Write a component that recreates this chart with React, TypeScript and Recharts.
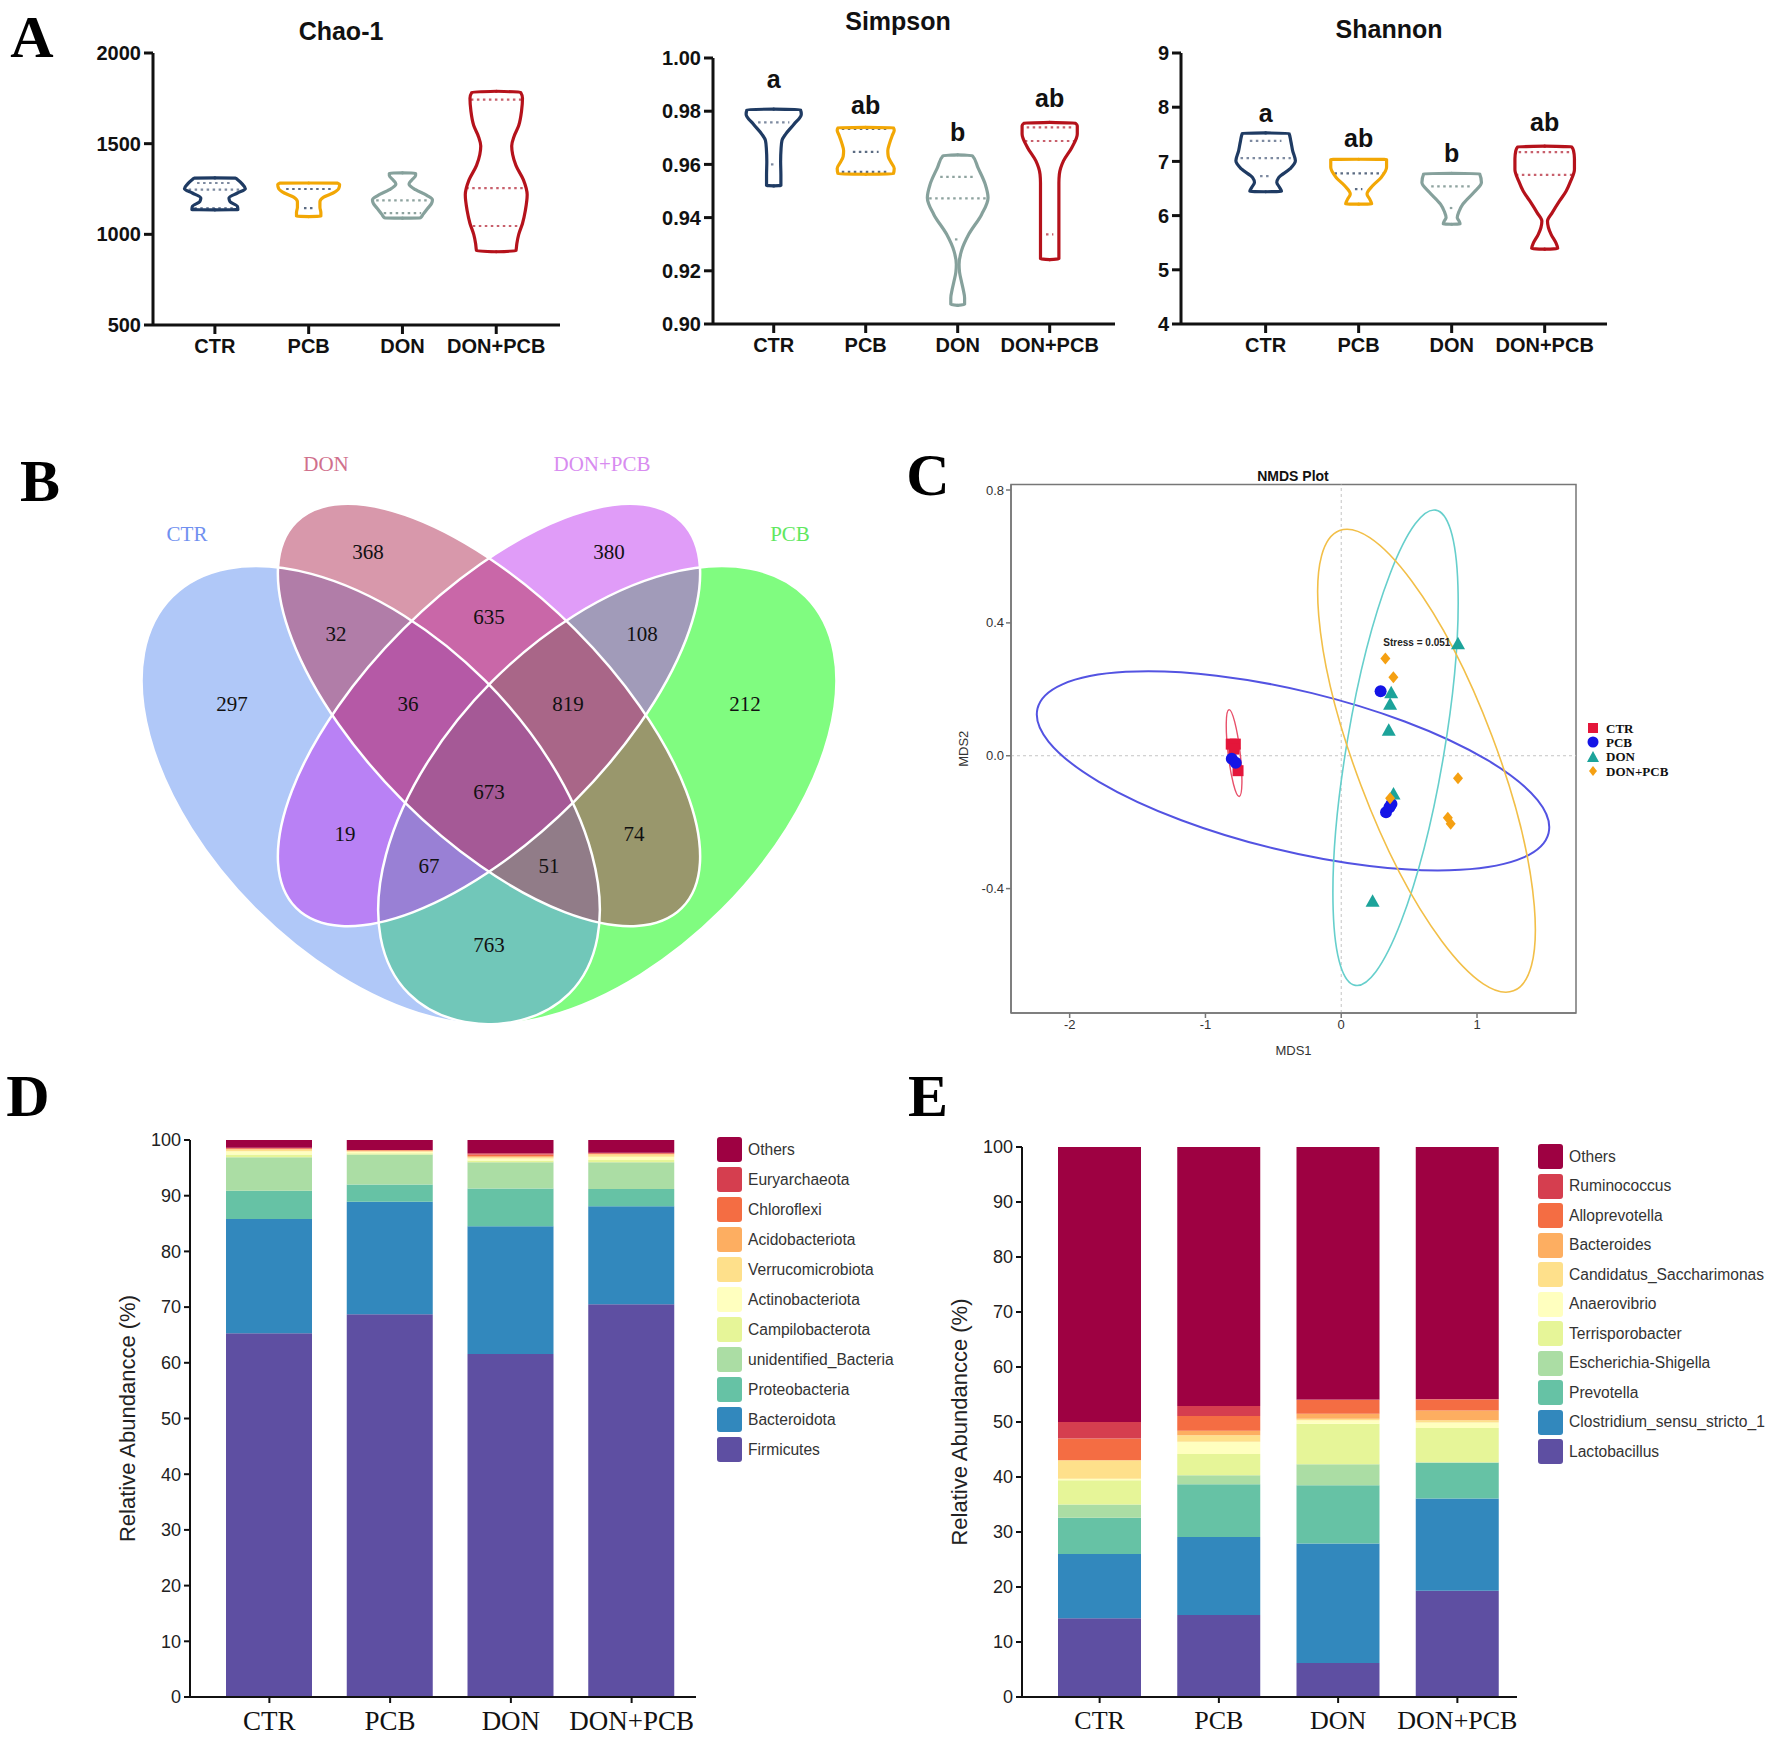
import React from 'react';
import {
  ComposedChart, Line, XAxis, YAxis, LabelList, BarChart, Bar,
  ScatterChart, Scatter, ReferenceLine, ReferenceArea, ReferenceDot,
} from 'recharts';

const SANS = '"Liberation Sans", Arial, Helvetica, sans-serif';
const SERIF = '"Liberation Serif", "Times New Roman", Times, serif';

const groups = ['CTR', 'PCB', 'DON', 'DON+PCB'];

// ---------- A: alpha diversity (violins) ----------
const violinStroke = ['#1f3b63', '#f2a705', '#86a19c', '#b5121b'];
const dotStroke = ['#7d8aa0', '#5b6b82', '#8ea39f', '#c8606c'];
const sigLetters = ['a', 'ab', 'b', 'ab'];

// outline per group, bottom to top: [value, half width in group units]
const chaoViolins = [
  [[1135, 0.245], [1154, 0.24], [1181, 0.16], [1200, 0.15], [1228, 0.24], [1252, 0.325], [1278, 0.29], [1302, 0.24], [1311, 0.22]],
  [[1098, 0.13], [1120, 0.13], [1150, 0.12], [1180, 0.12], [1205, 0.16], [1228, 0.26], [1252, 0.32], [1275, 0.33], [1283, 0.31]],
  [[1089, 0.19], [1110, 0.22], [1144, 0.27], [1170, 0.31], [1191, 0.32], [1215, 0.26], [1246, 0.14], [1278, 0.07], [1300, 0.1], [1325, 0.14], [1339, 0.14]],
  [[904, 0.21], [950, 0.22], [1000, 0.24], [1060, 0.28], [1130, 0.31], [1218, 0.33], [1300, 0.29], [1380, 0.21], [1440, 0.175], [1487, 0.165], [1540, 0.19], [1600, 0.24], [1680, 0.27], [1750, 0.28], [1789, 0.26]],
];
const chaoQuartiles = [
  [[1283, 0.19], [1247, 0.28], [1144, 0.22]],
  [[1250, 0.24], [1144, 0.05]],
  [[1187, 0.28], [1117, 0.2]],
  [[1743, 0.27], [1255, 0.32], [1046, 0.25]],
];

const simpsonViolins = [
  [[0.9519, 0.078], [0.956, 0.078], [0.961, 0.075], [0.966, 0.08], [0.969, 0.09], [0.9714, 0.13], [0.9751, 0.22], [0.9789, 0.3], [0.9808, 0.29]],
  [[0.9563, 0.3], [0.9585, 0.31], [0.9605, 0.28], [0.963, 0.245], [0.9651, 0.24], [0.968, 0.26], [0.971, 0.29], [0.9728, 0.31], [0.9739, 0.3]],
  [[0.907, 0.075], [0.9098, 0.075], [0.913, 0.06], [0.9161, 0.04], [0.9195, 0.02], [0.9224, 0.015], [0.9274, 0.04], [0.9337, 0.12], [0.9412, 0.26], [0.9475, 0.33], [0.9525, 0.3], [0.9588, 0.22], [0.9636, 0.16]],
  [[0.9242, 0.1], [0.93, 0.1], [0.938, 0.1], [0.946, 0.1], [0.953, 0.1], [0.9563, 0.105], [0.9613, 0.15], [0.9663, 0.24], [0.9714, 0.3], [0.9745, 0.3], [0.9758, 0.28]],
];
const simpsonQuartiles = [
  [[0.9758, 0.17], [0.96, 0.03]],
  [[0.9733, 0.26], [0.9647, 0.14], [0.9572, 0.26]],
  [[0.9553, 0.19], [0.9472, 0.31], [0.9318, 0.03]],
  [[0.9739, 0.25], [0.9688, 0.27], [0.9337, 0.04]],
];
const simpsonLetterY = [0.9921, 0.9823, 0.9722, 0.9848];

const shannonViolins = [
  [[6.44, 0.17], [6.52, 0.15], [6.61, 0.12], [6.7, 0.14], [6.86, 0.26], [7.01, 0.32], [7.2, 0.29], [7.38, 0.27], [7.525, 0.25]],
  [[6.21, 0.14], [6.3, 0.12], [6.4, 0.09], [6.55, 0.15], [6.7, 0.24], [6.89, 0.3], [7.04, 0.3]],
  [[5.84, 0.09], [5.9, 0.08], [5.96, 0.06], [6.08, 0.08], [6.21, 0.12], [6.43, 0.24], [6.61, 0.32], [6.78, 0.3]],
  [[5.38, 0.14], [5.5, 0.12], [5.65, 0.07], [5.78, 0.04], [5.9, 0.03], [6.05, 0.08], [6.27, 0.16], [6.45, 0.23], [6.64, 0.28], [6.85, 0.32], [7.05, 0.32], [7.2, 0.31], [7.28, 0.29]],
];
const shannonQuartiles = [
  [[7.38, 0.17], [7.06, 0.27], [6.73, 0.06]],
  [[6.78, 0.26], [6.49, 0.04]],
  [[6.54, 0.22], [6.14, 0.02]],
  [[7.17, 0.28], [6.75, 0.31]],
];
const shannonLetterY = [7.89, 7.43, 7.15, 7.73];

// ---------- B: Venn ----------
const vennSets = ['CTR', 'DON', 'DON+PCB', 'PCB'];
const vennSetColors = ['#6191f1', '#b13157', '#c139f1', '#02f902'];
const vennTitleColors = ['#7090f0', '#d0708c', '#d88cf0', '#60e860'];
const vennRegions = ['DON', 'DON+PCB', 'CTR&DON', 'DON&DON+PCB', 'DON+PCB&PCB', 'CTR', 'CTR&DON&DON+PCB', 'DON&DON+PCB&PCB', 'PCB', 'all', 'CTR&DON+PCB', 'DON&PCB', 'CTR&DON+PCB&PCB', 'CTR&DON&PCB', 'CTR&PCB'];
const vennCounts = [368, 380, 32, 635, 108, 297, 36, 819, 212, 673, 19, 74, 67, 51, 763];

// ---------- C: NMDS ----------
const nmdsCTR = [[-0.81, 0.035], [-0.78, 0.035], [-0.79, 0.02], [-0.76, -0.045]];
const nmdsPCB = [[-0.806, -0.009], [-0.777, -0.021], [0.29, 0.194], [0.33, -0.17], [0.37, -0.145], [0.355, -0.155]];
const nmdsDON = [[0.86, 0.337], [0.368, 0.19], [0.36, 0.155], [0.35, 0.077], [0.385, -0.115], [0.231, -0.438]];
const nmdsDONPCB = [[0.325, 0.293], [0.384, 0.236], [0.86, -0.068], [0.785, -0.187], [0.806, -0.205], [0.36, -0.128]];
const nmdsEllipseCenters = [[-0.789, 0.008], [-0.355, -0.0455], [0.4, 0.024], [0.628, -0.015]];

// ---------- D / E: stacked composition ----------
const spectral = ['#5e4fa2', '#3288bd', '#66c2a5', '#abdda4', '#e6f598', '#ffffbf', '#fee08b', '#fdae61', '#f46d43', '#d53e4f', '#9e0142'];
const phylumNames = ['Firmicutes', 'Bacteroidota', 'Proteobacteria', 'unidentified_Bacteria', 'Campilobacterota', 'Actinobacteriota', 'Verrucomicrobiota', 'Acidobacteriota', 'Chloroflexi', 'Euryarchaeota', 'Others'];
const phylumValues = [
  [65.3, 20.5, 5.1, 6.0, 0.5, 0.6, 0.3, 0.1, 0.1, 0.1, 1.4],
  [68.7, 20.2, 3.1, 5.4, 0.2, 0.3, 0.1, 0.1, 0.1, 0.0, 1.8],
  [61.6, 22.9, 6.8, 4.7, 0.3, 0.4, 0.2, 0.2, 0.3, 0.2, 2.4],
  [70.5, 17.6, 3.1, 4.8, 0.4, 0.6, 0.4, 0.1, 0.1, 0.1, 2.3],
];
const genusNames = ['Lactobacillus', 'Clostridium_sensu_stricto_1', 'Prevotella', 'Escherichia-Shigella', 'Terrisporobacter', 'Anaerovibrio', 'Candidatus_Saccharimonas', 'Bacteroides', 'Alloprevotella', 'Ruminococcus', 'Others'];
const genusValues = [
  [14.3, 11.7, 6.6, 2.4, 4.4, 0.3, 3.3, 0.1, 3.9, 3.0, 50.0],
  [14.9, 14.2, 9.6, 1.6, 3.9, 2.2, 1.2, 0.8, 2.7, 1.8, 47.1],
  [6.2, 21.7, 10.6, 3.8, 7.4, 0.6, 0.3, 0.9, 2.5, 0.1, 45.9],
  [19.3, 16.8, 6.5, 0.1, 6.2, 1.0, 0.4, 1.8, 2.0, 0.1, 45.8],
];
const pctTicks = [0, 10, 20, 30, 40, 50, 60, 70, 80, 90, 100];

// ================= helpers =================
type Pt = { x: number; y: number };

function violinSide(outline: number[][], i: number, sign: number): Pt[] {
  const n = outline.length;
  const lo = outline[0][0];
  const hi = outline[n - 1][0];
  const eps = (hi - lo) * 0.006;
  const pts: Pt[] = [{ x: i, y: lo }];
  outline.forEach(([v, w], k) => {
    const y = k === 0 ? v + eps : k === n - 1 ? v - eps : v;
    pts.push({ x: i + sign * w, y });
  });
  pts.push({ x: i, y: hi });
  return pts;
}

function PanelLetter({ ch, x, y }: { ch: string; x: number; y: number }) {
  return (
    <div style={{ position: 'absolute', left: x, top: y, transform: 'translate(-50%, -50%)', fontFamily: SERIF, fontWeight: 700, fontSize: 60, lineHeight: 1, color: '#000' }}>{ch}</div>
  );
}

function Title({ text, x, y, size, weight = 700 }: { text: string; x: number; y: number; size: number; weight?: number }) {
  return (
    <div style={{ position: 'absolute', left: x, top: y, transform: 'translate(-50%, -50%)', fontFamily: SANS, fontWeight: weight, fontSize: size, lineHeight: 1, color: '#111', whiteSpace: 'nowrap' }}>{text}</div>
  );
}

type ViolinCfg = {
  left: number; width: number; yWidth: number;
  margin: { top: number; right: number; bottom: number; left: number };
  xDomain: [number, number]; yDomain: [number, number]; yTicks: number[]; yFmt: (v: number) => string;
  outlines: number[][][]; quartiles: number[][][]; letterY?: number[];
};

function ViolinPanel({ cfg }: { cfg: ViolinCfg }) {
  const series: React.ReactNode[] = [];
  cfg.outlines.forEach((outline, i) => {
    cfg.quartiles[i].forEach(([v, w], k) => {
      series.push(
        <Line key={`q${i}-${k}`} data={[{ x: i - w, y: v }, { x: i + w, y: v }]} dataKey="y" type="linear"
          stroke={dotStroke[i]} strokeWidth={2.2} strokeDasharray="2.5 3.5" dot={false} activeDot={false} isAnimationActive={false} />,
      );
    });
    [1, -1].forEach((sign) => {
      series.push(
        <Line key={`v${i}-${sign}`} data={violinSide(outline, i, sign)} dataKey="y" type="monotoneY"
          stroke={violinStroke[i]} strokeWidth={3.2} strokeLinejoin="round" strokeLinecap="round"
          dot={false} activeDot={false} isAnimationActive={false} />,
      );
    });
  });
  const tickStyle = { fontSize: 20, fontWeight: 700, fill: '#111', fontFamily: SANS };
  return (
    <div style={{ position: 'absolute', left: cfg.left, top: 0 }}>
      <ComposedChart width={cfg.width} height={380} margin={cfg.margin}>
        <XAxis type="number" dataKey="x" domain={cfg.xDomain} allowDataOverflow ticks={[0, 1, 2, 3]} interval={0}
          tickFormatter={(v: number) => groups[v]} tick={tickStyle} height={40} tickSize={9} tickMargin={5}
          axisLine={{ stroke: '#111', strokeWidth: 3 }} tickLine={{ stroke: '#111', strokeWidth: 3 }} />
        <YAxis type="number" domain={cfg.yDomain} allowDataOverflow ticks={cfg.yTicks} interval={0}
          tickFormatter={cfg.yFmt} tick={tickStyle} width={cfg.yWidth} tickSize={9} tickMargin={3}
          axisLine={{ stroke: '#111', strokeWidth: 3 }} tickLine={{ stroke: '#111', strokeWidth: 3 }} />
        {series}
        {cfg.letterY && (
          <Line data={groups.map((g, i) => ({ x: i, y: cfg.letterY![i], t: sigLetters[i] }))} dataKey="y"
            stroke="none" dot={false} activeDot={false} isAnimationActive={false}>
            <LabelList dataKey="t" position="center" fill="#111" stroke="none" fontSize={25} fontWeight={700} fontFamily={SANS} />
          </Line>
        )}
      </ComposedChart>
    </div>
  );
}

// ---------- Venn ----------
const vennEllipseLayout = [
  { cx: 370.7, cy: 355.2, rx: 280.7, ry: 161.9, angle: 45 },  // CTR
  { cx: 489, cy: 275, rx: 272.8, ry: 121.4, angle: 45 },      // DON
  { cx: 489, cy: 275, rx: 272.8, ry: 121.4, angle: -45 },     // DON+PCB
  { cx: 607.3, cy: 355.2, rx: 280.7, ry: 161.9, angle: -45 }, // PCB
];
const vennDrawOrder = [3, 0, 2, 1];
const vennLabelLayout = [
  [368, 112], [609, 112], [336, 194], [489, 177], [642, 194], [232, 264], [408, 264], [568, 264],
  [745, 264], [489, 352], [345, 394], [634, 394], [429, 426], [549, 426], [489, 505],
];
const vennTitleLayout = [[187, 94], [326, 24], [602, 24], [790, 94]];

const VennFill = (p: any) => (
  <ellipse cx={p.cx} cy={p.cy} rx={p.payload.rx} ry={p.payload.ry} transform={`rotate(${p.payload.angle} ${p.cx} ${p.cy})`}
    fill={p.payload.color} fillOpacity={0.5} stroke="none" />
);
const VennEdge = (p: any) => (
  <ellipse cx={p.cx} cy={p.cy} rx={p.payload.rx} ry={p.payload.ry} transform={`rotate(${p.payload.angle} ${p.cx} ${p.cy})`}
    fill="none" stroke="#fff" strokeWidth={2.5} />
);
const VennCount = (p: any) => (
  <text x={p.cx} y={p.cy} textAnchor="middle" dominantBaseline="central" fontFamily={SERIF} fontSize={21} fill="#111">{p.payload.count}</text>
);
const VennTitle = (p: any) => (
  <text x={p.cx} y={p.cy} textAnchor="middle" dominantBaseline="central" fontFamily={SERIF} fontSize={21} fill={p.payload.color}>{p.payload.name}</text>
);

function VennPanel() {
  const ellipses = vennDrawOrder.map((k) => ({ x: vennEllipseLayout[k].cx, y: vennEllipseLayout[k].cy, rx: vennEllipseLayout[k].rx, ry: vennEllipseLayout[k].ry, angle: vennEllipseLayout[k].angle, color: vennSetColors[k] }));
  const labels = vennRegions.map((r, k) => ({ x: vennLabelLayout[k][0], y: vennLabelLayout[k][1], count: vennCounts[k], region: r }));
  const titles = vennSets.map((s, k) => ({ x: vennTitleLayout[k][0], y: vennTitleLayout[k][1], name: s, color: vennTitleColors[k] }));
  return (
    <div style={{ position: 'absolute', left: 0, top: 440 }}>
      <ScatterChart width={890} height={600} margin={{ top: 0, right: 0, bottom: 0, left: 0 }}>
        <XAxis type="number" dataKey="x" domain={[0, 890]} hide allowDataOverflow />
        <YAxis type="number" dataKey="y" domain={[0, 600]} hide reversed allowDataOverflow />
        <Scatter data={ellipses} shape={VennFill} isAnimationActive={false} />
        <Scatter data={ellipses} shape={VennEdge} isAnimationActive={false} />
        <Scatter data={labels} shape={VennCount} isAnimationActive={false} />
        <Scatter data={titles} shape={VennTitle} isAnimationActive={false} />
      </ScatterChart>
    </div>
  );
}

// ---------- NMDS ----------
const nmdsColors = ['#e4163a', '#1414e6', '#1ca39a', '#f5a012'];
const nmdsEllipseColors = ['#e8506a', '#5353e2', '#66cfcc', '#f2bf48'];
const nmdsEllipseShape = [
  { rx: 43.7, ry: 6, angle: 83.3, w: 1.4 },
  { rx: 263, ry: 80, angle: 13.7, w: 2 },
  { rx: 241, ry: 48.7, angle: -80.4, w: 1.6 },
  { rx: 246, ry: 70, angle: 69.3, w: 1.6 },
];
const NX: [number, number] = [-2.432, 1.729];
const NY: [number, number] = [-0.7745, 0.8166];

const EllipseOutline = (p: any) => (
  <ellipse cx={p.cx} cy={p.cy} rx={p.payload.rx} ry={p.payload.ry} transform={`rotate(${p.payload.angle} ${p.cx} ${p.cy})`}
    fill="none" stroke={p.payload.color} strokeWidth={p.payload.w} />
);
const SquareMark = (p: any) => <rect x={p.cx - 5.5} y={p.cy - 5.5} width={11} height={11} fill={nmdsColors[0]} />;
const CircleMark = (p: any) => <circle cx={p.cx} cy={p.cy} r={6} fill={nmdsColors[1]} />;
const TriangleMark = (p: any) => (
  <polygon points={`${p.cx},${p.cy - 7} ${p.cx + 7},${p.cy + 5.5} ${p.cx - 7},${p.cy + 5.5}`} fill={nmdsColors[2]} />
);
const DiamondMark = (p: any) => (
  <polygon points={`${p.cx},${p.cy - 6} ${p.cx + 5},${p.cy} ${p.cx},${p.cy + 6} ${p.cx - 5},${p.cy}`} fill={nmdsColors[3]} />
);

const toPts = (arr: number[][]) => arr.map(([x, y]) => ({ x, y }));

function NmdsPanel() {
  const ell = nmdsEllipseCenters.map(([x, y], k) => ({ x, y, ...nmdsEllipseShape[k], color: nmdsEllipseColors[k] }));
  const tick = { fontSize: 13, fill: '#333', fontFamily: SANS };
  return (
    <div style={{ position: 'absolute', left: 895, top: 440 }}>
      <ScatterChart width={877} height={620} margin={{ top: 44.5, right: 196, bottom: 2, left: 66 }}>
        <XAxis type="number" dataKey="x" domain={NX} allowDataOverflow ticks={[-2, -1, 0, 1]} interval={0}
          tick={tick} height={45} tickSize={5} axisLine={{ stroke: '#777', strokeWidth: 1.5 }} tickLine={{ stroke: '#777', strokeWidth: 1.5 }}
          label={{ value: 'MDS1', position: 'insideBottom', offset: 3, fontSize: 13, fill: '#333', fontFamily: SANS }} />
        <YAxis type="number" dataKey="y" domain={NY} allowDataOverflow ticks={[-0.4, 0, 0.4, 0.8]} interval={0}
          tickFormatter={(v: number) => v.toFixed(1)} tick={tick} width={50} tickSize={5}
          axisLine={{ stroke: '#777', strokeWidth: 1.5 }} tickLine={{ stroke: '#777', strokeWidth: 1.5 }}
          label={{ value: 'MDS2', angle: -90, position: 'insideLeft', offset: 2, fontSize: 13, fill: '#333', fontFamily: SANS, style: { textAnchor: 'middle' } }} />
        <ReferenceArea x1={NX[0]} x2={NX[1]} y1={NY[0]} y2={NY[1]} fill="none" fillOpacity={0} stroke="#777" strokeWidth={1.5} />
        <ReferenceLine x={0} stroke="#c4c4c4" strokeDasharray="3 3" />
        <ReferenceLine y={0} stroke="#c4c4c4" strokeDasharray="3 3" />
        <Scatter data={ell} shape={EllipseOutline} isAnimationActive={false} />
        <Scatter data={toPts(nmdsCTR)} shape={SquareMark} isAnimationActive={false} />
        <Scatter data={toPts(nmdsPCB)} shape={CircleMark} isAnimationActive={false} />
        <Scatter data={toPts(nmdsDON)} shape={TriangleMark} isAnimationActive={false} />
        <Scatter data={toPts(nmdsDONPCB)} shape={DiamondMark} isAnimationActive={false} />
        <ReferenceDot x={0.557} y={0.3425} r={0} fill="none" stroke="none"
          label={{ value: 'Stress = 0.051', position: 'center', fontSize: 10, fontWeight: 700, fill: '#222', fontFamily: SANS }} />
      </ScatterChart>
      <div style={{ position: 'absolute', left: 691, top: 281 }}>
        {groups.map((g, k) => (
          <div key={g} style={{ position: 'absolute', left: 0, top: k * 14.4, height: 14, display: 'flex', alignItems: 'center', whiteSpace: 'nowrap' }}>
            <svg width={14} height={14} style={{ marginRight: 6 }}>
              {k === 0 && <rect x={2} y={2} width={10} height={10} fill={nmdsColors[0]} />}
              {k === 1 && <circle cx={7} cy={7} r={5.5} fill={nmdsColors[1]} />}
              {k === 2 && <polygon points="7,1 13,12 1,12" fill={nmdsColors[2]} />}
              {k === 3 && <polygon points="7,2 11,7 7,12 3,7" fill={nmdsColors[3]} />}
            </svg>
            <span style={{ fontFamily: SERIF, fontWeight: 700, fontSize: 13, color: '#111', lineHeight: 1 }}>{g}</span>
          </div>
        ))}
      </div>
    </div>
  );
}

// ---------- stacked bars ----------
type StackCfg = {
  left: number; width: number; marginTop: number; marginLeft: number; marginRight: number;
  barSize: number; padLeft: number; padRight: number; names: string[]; values: number[][];
  legendLeft: number; legendTop: number; legendStep: number; labelFont: number;
};

function StackPanel({ cfg }: { cfg: StackCfg }) {
  const rows = groups.map((g, gi) => {
    const r: Record<string, any> = { group: g };
    cfg.names.forEach((n, k) => { r[n] = cfg.values[gi][k]; });
    return r;
  });
  return (
    <div style={{ position: 'absolute', left: cfg.left, top: 1100 }}>
      <BarChart width={cfg.width} height={639} data={rows} barSize={cfg.barSize}
        margin={{ top: cfg.marginTop, right: cfg.marginRight, bottom: 2, left: cfg.marginLeft }}>
        <XAxis dataKey="group" padding={{ left: cfg.padLeft, right: cfg.padRight }} interval={0} height={40} tickSize={6} tickMargin={8}
          tick={{ fontSize: cfg.labelFont, fill: '#111', fontFamily: SERIF }}
          axisLine={{ stroke: '#111', strokeWidth: 2 }} tickLine={{ stroke: '#111', strokeWidth: 2 }} />
        <YAxis type="number" domain={[0, 100]} ticks={pctTicks} interval={0} width={60} tickSize={6} tickMargin={3}
          tick={{ fontSize: 18, fill: '#222', fontFamily: SANS }}
          axisLine={{ stroke: '#111', strokeWidth: 2 }} tickLine={{ stroke: '#111', strokeWidth: 2 }}
          label={{ value: 'Relative Abundancce (%)', angle: -90, position: 'insideLeft', offset: -3, fontSize: 22, fill: '#222', fontFamily: SANS, style: { textAnchor: 'middle' } }} />
        {cfg.names.map((n, k) => (
          <Bar key={n} dataKey={n} stackId="s" fill={spectral[k]} isAnimationActive={false} />
        ))}
      </BarChart>
      <div style={{ position: 'absolute', left: cfg.legendLeft, top: cfg.legendTop }}>
        {cfg.names.map((n, k) => ({ n, k })).reverse().map(({ n, k }, idx) => (
          <div key={n} style={{ position: 'absolute', left: 0, top: idx * cfg.legendStep, height: 25, display: 'flex', alignItems: 'center', whiteSpace: 'nowrap' }}>
            <div style={{ width: 25, height: 25, background: spectral[k], borderRadius: 3, marginRight: 6 }} />
            <span style={{ fontFamily: SANS, fontSize: 15.6, color: '#333' }}>{n}</span>
          </div>
        ))}
      </div>
    </div>
  );
}

const chaoCfg: ViolinCfg = {
  left: 0, width: 600, yWidth: 70, margin: { top: 53, right: 40, bottom: 15, left: 83 },
  xDomain: [-0.66, 3.68], yDomain: [500, 2000], yTicks: [500, 1000, 1500, 2000], yFmt: (v) => String(v),
  outlines: chaoViolins, quartiles: chaoQuartiles,
};
const simpsonCfg: ViolinCfg = {
  left: 610, width: 530, yWidth: 80, margin: { top: 58, right: 25, bottom: 16, left: 23 },
  xDomain: [-0.66, 3.71], yDomain: [0.9, 1.0], yTicks: [0.9, 0.92, 0.94, 0.96, 0.98, 1.0], yFmt: (v) => v.toFixed(2),
  outlines: simpsonViolins, quartiles: simpsonQuartiles, letterY: simpsonLetterY,
};
const shannonCfg: ViolinCfg = {
  left: 1130, width: 520, yWidth: 40, margin: { top: 53, right: 43, bottom: 16, left: 11 },
  xDomain: [-0.91, 3.67], yDomain: [4, 9], yTicks: [4, 5, 6, 7, 8, 9], yFmt: (v) => String(v),
  outlines: shannonViolins, quartiles: shannonQuartiles, letterY: shannonLetterY,
};
const phylumCfg: StackCfg = {
  left: 90, width: 820, marginTop: 40, marginLeft: 40, marginRight: 214, barSize: 86, padLeft: 19, padRight: 4,
  names: phylumNames, values: phylumValues, legendLeft: 627, legendTop: 37, legendStep: 30, labelFont: 27,
};
const genusCfg: StackCfg = {
  left: 920, width: 852, marginTop: 47, marginLeft: 42, marginRight: 255, barSize: 83, padLeft: 18, padRight: 0,
  names: genusNames, values: genusValues, legendLeft: 618, legendTop: 44, legendStep: 29.5, labelFont: 26,
};

export default function App() {
  return (
    <div style={{ position: 'absolute', left: 0, top: 0, width: 1772, height: 1739, background: '#fff', overflow: 'hidden', fontFamily: SANS }}>
      <PanelLetter ch="A" x={32} y={37} />
      <PanelLetter ch="B" x={40} y={481} />
      <PanelLetter ch="C" x={928} y={475} />
      <PanelLetter ch="D" x={28} y={1096} />
      <PanelLetter ch="E" x={928} y={1096} />

      <ViolinPanel cfg={chaoCfg} />
      <ViolinPanel cfg={simpsonCfg} />
      <ViolinPanel cfg={shannonCfg} />
      <Title text="Chao-1" x={341} y={31} size={25} />
      <Title text="Simpson" x={898} y={21} size={25} />
      <Title text="Shannon" x={1389} y={29} size={25} />

      <VennPanel />
      <NmdsPanel />
      <Title text="NMDS Plot" x={1293} y={476} size={14} />

      <StackPanel cfg={phylumCfg} />
      <StackPanel cfg={genusCfg} />
    </div>
  );
}
